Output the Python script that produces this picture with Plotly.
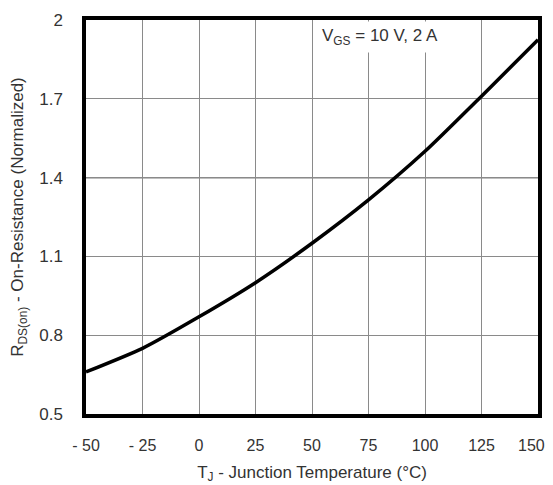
import plotly.graph_objects as go

temps = [-50, -25, 0, 25, 50, 75, 100, 125, 150]
rds_norm = [0.66, 0.75, 0.87, 1.0, 1.15, 1.315, 1.5, 1.71, 1.925]

x_ticks = [-50, -25, 0, 25, 50, 75, 100, 125, 150]
x_tick_labels = ["- 50", "- 25", "0", "25", "50", "75", "100", "125", "150\u00a0\u00a0\u00a0"]
y_ticks = [0.5, 0.8, 1.1, 1.4, 1.7, 2.0]
y_tick_labels = ["0.5", "0.8", "1.1", "1.4", "1.7", "2"]

font_family = "Liberation Sans, Arial, sans-serif"

fig = go.Figure()
fig.add_trace(go.Scatter(x=temps, y=rds_norm, mode="lines",
                         line=dict(color="black", width=3.5, shape="spline", smoothing=0.6),
                         hoverinfo="skip", showlegend=False))

# darker major gridline at 1.4
fig.add_shape(type="line", xref="x", yref="y", x0=-50, x1=150, y0=1.4, y1=1.4,
              line=dict(color="black", width=1.3), layer="below")

fig.add_annotation(x=0.65, xref="paper", y=1.0, yref="paper", yanchor="top", yshift=-1,
                   text="V<sub>GS</sub> = 10 V, 2 A", showarrow=False,
                   bgcolor="white", borderpad=4,
                   font=dict(family=font_family, size=17, color="#333"))

# page body has an 8px default margin, so the figure is 8px smaller and shifted
fig.update_layout(
    width=545, height=477,
    margin=dict(l=78, r=15, t=12, b=71),
    paper_bgcolor="white", plot_bgcolor="white",
    font=dict(family=font_family, size=17, color="#333"),
    xaxis=dict(range=[-50, 150], tickvals=x_ticks, ticktext=x_tick_labels,
               tickfont=dict(size=16), ticklabeloverflow="allow",
               showgrid=True, gridcolor="#8a8a8a", gridwidth=1.2,
               showline=True, linecolor="black", linewidth=3.5, mirror=True,
               ticks="", ticklabelstandoff=14, zeroline=False, automargin=False,
               title=dict(text="T<sub>J</sub> - Junction Temperature (°C)",
                          font=dict(size=17), standoff=14)),
    yaxis=dict(range=[0.5, 2.0], tickvals=y_ticks, ticktext=y_tick_labels,
               showgrid=True, gridcolor="#8a8a8a", gridwidth=1.2,
               showline=True, linecolor="black", linewidth=3.5, mirror=True,
               ticks="", ticklabelstandoff=16, zeroline=False, automargin=False,
               title=dict(text="R<sub>DS(on)</sub> - On-Resistance (Normalized)",
                          font=dict(size=17), standoff=14)),
)

fig.write_html("out.html")
